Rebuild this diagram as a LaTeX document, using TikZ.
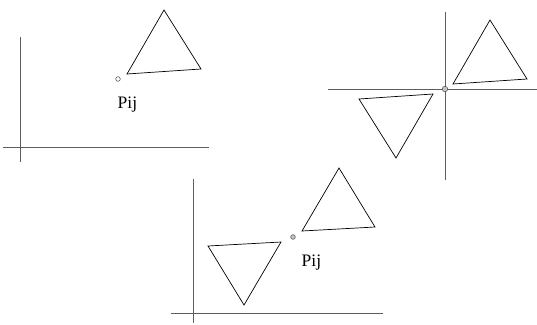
\documentclass[tikz,border=0pt]{standalone}
\usepackage{fontspec}
\setmainfont{Liberation Serif}
\usetikzlibrary{positioning,calc}
\definecolor{axisgray}{HTML}{5E5E5E}
\definecolor{dotgray}{HTML}{C4C4C4}
\tikzset{
  axisline/.style={draw=axisgray,line width=0.95pt},
  triline/.style={draw=black,line width=0.7pt,line join=miter},
  opendot/.style={circle,draw=axisgray,fill=white,line width=0.6pt,
                  inner sep=0pt,minimum size=4.6pt},
  greydot/.style={circle,draw=axisgray,fill=dotgray,line width=0.6pt,
                  inner sep=0pt,minimum size=4.6pt},
  ptlabel/.style={font=\fontsize{17.5}{20}\selectfont,inner sep=0pt,anchor=base west}
}

\begin{document}
\begin{tikzpicture}[x=1pt,y=-1pt]
  \useasboundingbox (0,0) rectangle (537,324);

  % Panel 1: triangle beside the point
  \draw[axisline] (20,37) -- (20,162);
  \draw[axisline] (3,147) -- (209,147);
  \draw[triline] (164,10) -- (127,74) -- (201,69) -- cycle;
  \node[opendot] (p1) at (118,79) {};
  \node[ptlabel] (l1) at (117.5,108.5) {Pij};

  % Panel 2: axes through the point, triangle and its mirror
  \draw[axisline] (445,12) -- (445,180);
  \draw[axisline] (328,89) -- (537,89);
  \draw[triline] (490,20) -- (453,84) -- (527,79) -- cycle;
  \draw[triline] (359,99) -- (433,94) -- (396,158) -- cycle;
  \node[greydot,minimum size=5.5pt] (p2) at (445,89) {};

  % Panel 3: both triangles in the frame
  \draw[axisline] (193,179) -- (193,323);
  \draw[axisline] (171,313) -- (383,313);
  \draw[triline] (339,168) -- (302,231) -- (375,227) -- cycle;
  \draw[triline] (208,246) -- (281,242) -- (244,305) -- cycle;
  \node[greydot] (p3) at (293,237) {};
  \node[ptlabel] (l3) at (301.5,266.5) {Pij};
\end{tikzpicture}
\end{document}
